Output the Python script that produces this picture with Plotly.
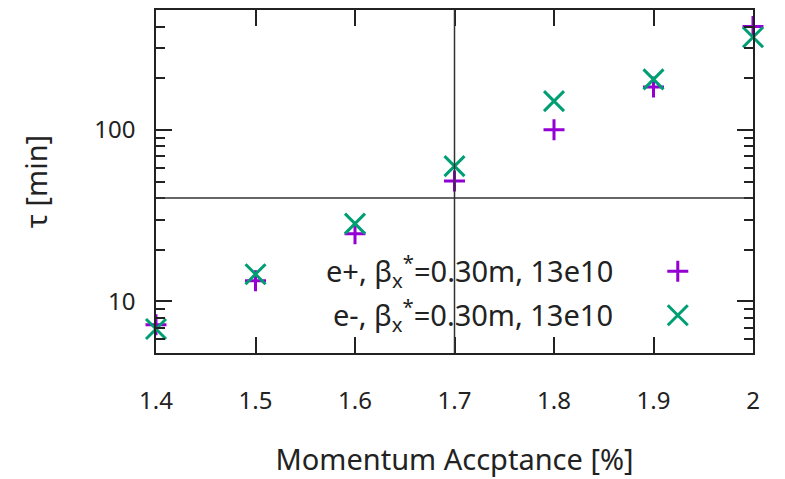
import plotly.graph_objects as go

# ---- data ----
acceptance = [1.4, 1.5, 1.6, 1.7, 1.8, 1.9, 2.0]
tau_eplus = [7.3, 13.2, 24.8, 50.4, 100, 178, 400]
tau_eminus = [6.9, 14.4, 28.4, 61.5, 147, 197, 347]
x_tickvals = [1.4, 1.5, 1.6, 1.7, 1.8, 1.9, 2.0]
x_ticktext = ["1.4", "1.5", "1.6", "1.7", "1.8", "1.9", "2"]
y_tickvals = [10, 100]
y_ticktext = ["10", "100"]
ref_x = 1.7
ref_y = 40
labels = ["e+, β<sub>x</sub><sup>*</sup>=0.30m, 13e10",
          "e-, β<sub>x</sub><sup>*</sup>=0.30m, 13e10"]
colors = ["#9400D3", "#009E73"]
symbols = ["cross-thin", "x-thin"]
sizes = [15, 20]

FONT = "Noto Sans"
FS_TICK = 24
FS_LAB = 29

fig = go.Figure()
for i, ys in enumerate([tau_eplus, tau_eminus]):
    fig.add_trace(go.Scatter(x=acceptance, y=ys, mode="markers", showlegend=False,
                             cliponaxis=False,
                             marker=dict(symbol=symbols[i], size=sizes[i],
                                         line=dict(color=colors[i], width=3), color=colors[i])))

# legend keys on an overlay axis in [0,1]
leg_x = 0.874
leg_y = [0.238, 0.110]
for i in range(2):
    fig.add_trace(go.Scatter(x=[leg_x], y=[leg_y[i]], mode="markers", showlegend=False,
                             xaxis="x2", yaxis="y2",
                             marker=dict(symbol=symbols[i], size=sizes[i],
                                         line=dict(color=colors[i], width=3), color=colors[i])))
    fig.add_annotation(x=0.769, y=leg_y[i], xref="paper", yref="paper", text=labels[i],
                       showarrow=False, xanchor="right", yanchor="middle",
                       font=dict(family=FONT, size=FS_LAB, color="#222"))

axis_common = dict(showline=True, linecolor="#222", linewidth=1.5, mirror="allticks",
                   ticks="inside", tickcolor="#222", tickwidth=1.5, showgrid=False,
                   zeroline=False, tickfont=dict(family=FONT, size=FS_TICK, color="#222"))

fig.update_layout(
    width=785, height=479,
    margin=dict(l=156, r=32, t=8, b=126),
    plot_bgcolor="white", paper_bgcolor="white",
    xaxis=dict(range=[1.4, 2.0], tickvals=x_tickvals, ticktext=x_ticktext, ticklen=16,
               ticklabelstandoff=25,
               title=dict(text="Momentum Accptance [%]", font=dict(family=FONT, size=FS_LAB, color="#222"),
                          standoff=35),
               **axis_common),
    yaxis=dict(type="log", range=[0.69897, 2.69897], tickvals=y_tickvals, ticktext=y_ticktext,
               ticklen=16, ticklabelstandoff=14,
               minor=dict(ticks="inside", ticklen=9, tickcolor="#222", tickwidth=1.5,
                          tickvals=[5, 6, 7, 8, 9, 20, 30, 40, 50, 60, 70, 80, 90, 200, 300, 400]),
               title=dict(text="τ [min]", font=dict(family=FONT, size=FS_LAB, color="#222"), standoff=38),
               **axis_common),
    xaxis2=dict(range=[0, 1], overlaying="x", visible=False, anchor="y2"),
    yaxis2=dict(range=[0, 1], overlaying="y", visible=False, anchor="x2"),
)

fig.add_shape(type="line", xref="paper", yref="y", x0=0, x1=1, y0=ref_y, y1=ref_y,
              line=dict(color="#333", width=1.5))
fig.add_shape(type="line", xref="x", yref="paper", x0=ref_x, x1=ref_x, y0=0, y1=1,
              line=dict(color="#333", width=1.5))

fig.write_html("out.html")
